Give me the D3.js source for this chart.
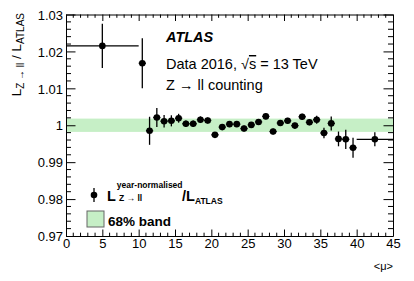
<!DOCTYPE html>
<html>
<head>
<meta charset="utf-8">
<script src="https://cdn.jsdelivr.net/npm/d3@7"></script>
<style>
    body { margin: 0; background: #fff; }
    svg { display: block; font-family: "Liberation Sans", Arial, Helvetica, sans-serif; }
</style>
</head>
<body>
<svg id="chart" width="414" height="281"></svg>
<script>
// bin centres in <mu>, half bin widths, ratio values and their errors
var muValues = [5, 10.5, 11.5, 12.5, 13.5, 14.5, 15.5, 16.5, 17.5, 18.5, 19.5,
    20.5, 21.5, 22.5, 23.5, 24.5, 25.5, 26.5, 27.5, 28.5, 29.5,
    30.5, 31.5, 32.5, 33.5, 34.5, 35.5, 36.5, 37.5, 38.5, 39.5, 42.5];
var muHalfWidth = [5, 0.5, 0.5, 0.5, 0.5, 0.5, 0.5, 0.5, 0.5, 0.5, 0.5,
    0.5, 0.5, 0.5, 0.5, 0.5, 0.5, 0.5, 0.5, 0.5, 0.5,
    0.5, 0.5, 0.5, 0.5, 0.5, 0.5, 0.5, 0.5, 0.5, 0.5, 2.5];
var ratioValues = [1.0215, 1.0168, 0.9985, 1.0021, 1.0011, 1.0012, 1.0019, 1.0004, 1.0004, 1.0015, 1.0013,
    0.9974, 0.9995, 1.0003, 1.0003, 0.9991, 1.0001, 1.0009, 1.0024, 0.9983, 1.0006,
    1.0012, 0.9999, 1.0023, 1.0008, 1.0015, 0.9979, 1.0005, 0.9963, 0.9962, 0.9939, 0.9962];
var ratioErrors = [0.006, 0.0068, 0.0038, 0.0026, 0.0017, 0.0015, 0.0012, 0.0009, 0.0009, 0.0009, 0.0008,
    0.0008, 0.0008, 0.0008, 0.0008, 0.0008, 0.0008, 0.0008, 0.0008, 0.0008, 0.0008,
    0.0008, 0.0008, 0.0008, 0.0008, 0.0011, 0.0014, 0.0019, 0.002, 0.0026, 0.0027, 0.0019];

// 68% band around unity
var bandLow = 0.9982;
var bandHigh = 1.0018;

var xMajorTicks = [0, 5, 10, 15, 20, 25, 30, 35, 40, 45];
var yMajorTicks = [0.97, 0.98, 0.99, 1, 1.01, 1.02, 1.03];

var data = muValues.map(function(m, i) {
    return {mu: m, dx: muHalfWidth[i], r: ratioValues[i], dr: ratioErrors[i]};
});

var svg = d3.select("#chart");

var margin = {left: 66, right: 21, top: 14.5, bottom: 45};
var width = 414 - margin.left - margin.right,
    height = 281 - margin.top - margin.bottom;

var x = d3.scaleLinear().domain([0, 45]).range([0, width]);
var y = d3.scaleLinear().domain([0.97, 1.03]).range([height, 0]);

var g = svg.append("g")
    .attr("transform", "translate(" + margin.left + "," + margin.top + ")");

// green band
g.append("rect")
    .attr("x", x(0))
    .attr("width", x(45) - x(0))
    .attr("y", y(bandHigh))
    .attr("height", y(bandLow) - y(bandHigh))
    .attr("fill", "#c6efc6");

// minor ticks
var xMinor = d3.range(0, 46, 1).filter(function(v) { return v % 5 !== 0; });
var yMinor = d3.range(0, 31).map(function(i) { return 0.97 + i * 0.002; })
    .filter(function(v, i) { return i % 5 !== 0; });

// axes, ticks drawn inside the frame
var xAxis = d3.axisBottom(x).tickValues(xMajorTicks).tickSize(-6.5).tickSizeOuter(0).tickPadding(3)
    .tickFormat(d3.format("d"));
var yAxis = d3.axisLeft(y).tickValues(yMajorTicks).tickSize(-9.5).tickSizeOuter(0).tickPadding(3)
    .tickFormat(function(d) { return d === 1 ? "1" : d3.format(".2f")(d); });

var gx = g.append("g").attr("transform", "translate(0," + height + ")").call(xAxis);
var gy = g.append("g").call(yAxis);
[gx, gy].forEach(function(a) {
    a.selectAll("text").style("font-size", "13px").attr("fill", "#000");
    a.select(".domain").attr("stroke", "#000");
});
gy.selectAll("text").attr("dy", "0.36em");

// top and right frame with mirrored ticks
g.append("g").call(d3.axisTop(x).tickValues(xMajorTicks).tickSize(-6.5).tickSizeOuter(0).tickFormat(""));
g.append("g").attr("transform", "translate(" + width + ",0)")
    .call(d3.axisRight(y).tickValues(yMajorTicks).tickSize(-9.5).tickSizeOuter(0).tickFormat(""));

function minorTicks(sel, vals, fn) {
    sel.selectAll(null).data(vals).enter().append("line")
        .attr("stroke", "#000")
        .each(fn);
}
minorTicks(g, xMinor, function(d) {
    d3.select(this).attr("x1", x(d)).attr("x2", x(d)).attr("y1", height).attr("y2", height - 3.3);
});
minorTicks(g, xMinor, function(d) {
    d3.select(this).attr("x1", x(d)).attr("x2", x(d)).attr("y1", 0).attr("y2", 3.3);
});
minorTicks(g, yMinor, function(d) {
    d3.select(this).attr("x1", 0).attr("x2", 5).attr("y1", y(d)).attr("y2", y(d));
});
minorTicks(g, yMinor, function(d) {
    d3.select(this).attr("x1", width).attr("x2", width - 5).attr("y1", y(d)).attr("y2", y(d));
});

// error bars
var pts = g.selectAll(".pt").data(data).enter().append("g").attr("class", "pt");
pts.append("line")
    .attr("x1", function(d) { return x(d.mu - d.dx); })
    .attr("x2", function(d) { return x(d.mu + d.dx); })
    .attr("y1", function(d) { return y(d.r); })
    .attr("y2", function(d) { return y(d.r); })
    .attr("stroke", "#000").attr("stroke-width", 1.3);
pts.append("line")
    .attr("x1", function(d) { return x(d.mu); })
    .attr("x2", function(d) { return x(d.mu); })
    .attr("y1", function(d) { return y(d.r - d.dr); })
    .attr("y2", function(d) { return y(d.r + d.dr); })
    .attr("stroke", "#000").attr("stroke-width", 1.3);
pts.append("circle")
    .attr("cx", function(d) { return x(d.mu); })
    .attr("cy", function(d) { return y(d.r); })
    .attr("r", 3.3)
    .attr("fill", "#000");

// labels
svg.append("text")
    .attr("x", 166).attr("y", 42)
    .style("font-size", "14.5px").style("font-weight", "bold").style("font-style", "italic")
    .text("ATLAS");
var t2 = svg.append("text").attr("x", 166).attr("y", 69).style("font-size", "14.5px");
t2.append("tspan").text("Data 2016, √");
t2.append("tspan").style("text-decoration", "overline").text("s");
t2.append("tspan").text(" = 13 TeV");
svg.append("text")
    .attr("x", 166).attr("y", 90)
    .style("font-size", "14.5px")
    .text("Z → ll counting");

// y title
var yt = svg.append("text")
    .attr("transform", "translate(21,13) rotate(-90)")
    .attr("text-anchor", "end")
    .style("font-size", "13.5px");
yt.append("tspan").text("L");
yt.append("tspan").attr("dy", 3).style("font-size", "10px").text("Z → ll");
yt.append("tspan").attr("dy", -3).text(" / L");
yt.append("tspan").attr("dy", 3).style("font-size", "10px").text("ATLAS");

// x title
svg.append("text")
    .attr("x", 393).attr("y", 270)
    .attr("text-anchor", "end")
    .style("font-size", "11px")
    .text("<μ>");

// legend
var lg = svg.append("g");
lg.append("line").attr("x1", 94).attr("x2", 94).attr("y1", 188).attr("y2", 202)
    .attr("stroke", "#000").attr("stroke-width", 1.3);
lg.append("circle").attr("cx", 94).attr("cy", 195).attr("r", 3.3).attr("fill", "#000");
var lt = lg.append("text").attr("x", 107).attr("y", 201)
    .style("font-size", "14.5px").style("font-weight", "bold");
lt.append("tspan").text("L");
lt.append("tspan").attr("dy", -13.5).attr("dx", 1).style("font-size", "8.5px").text("year-normalised");
lt.append("tspan").attr("x", 119).attr("dy", 13.5).style("font-size", "8.5px").text("Z → ll");
lt.append("tspan").attr("x", 182).attr("dy", 0).text("/L");
lt.append("tspan").attr("dy", 3).style("font-size", "8.5px").text("ATLAS");

lg.append("rect").attr("x", 87).attr("y", 211).attr("width", 17).attr("height", 16)
    .attr("fill", "#c6efc6").attr("stroke", "#666").attr("stroke-width", 1);
lg.append("text").attr("x", 108).attr("y", 226)
    .style("font-size", "13.5px").style("font-weight", "bold")
    .text("68% band");
</script>
</body>
</html>
